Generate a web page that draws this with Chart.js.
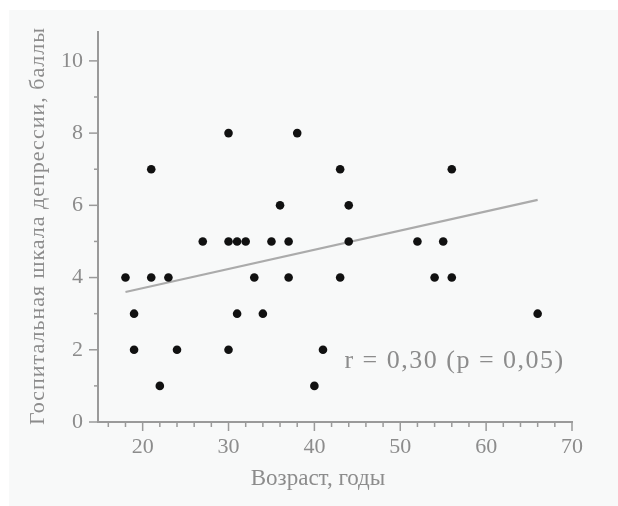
<!DOCTYPE html>
<html lang="ru">
<head>
<meta charset="utf-8">
<title>Возраст и депрессия</title>
<script src="https://cdn.jsdelivr.net/npm/chart.js@4.4.1/dist/chart.umd.min.js"></script>
<style>
  html, body { margin: 0; padding: 0; background: #fff; }
  #wrap { position: relative; width: 618px; height: 506px; }
  #panel { position: absolute; left: 9px; top: 10px; right: 0; bottom: 0; background: #f8f9f9; }
  #chart { position: absolute; left: 0; top: 0; }
</style>
</head>
<body>
<div id="wrap">
  <div id="panel"></div>
  <canvas id="chart" width="618" height="506"></canvas>
</div>
<script>
// ── Data ──────────────────────────────────────────────────────────────────────
const ages   = [18, 19, 19, 21, 21, 22, 23, 24, 27, 30, 30, 30, 31, 31, 32, 33, 34,
                35, 36, 37, 37, 38, 40, 41, 43, 43, 44, 44, 52, 54, 55, 56, 56, 66];
const scores = [ 4,  3,  2,  7,  4,  1,  4,  2,  5,  8,  5,  2,  5,  3,  5,  4,  3,
                 5,  6,  5,  4,  8,  1,  2,  7,  4,  6,  5,  5,  4,  5,  7,  4,  3];

// regression line ends, as drawn
const fitX = [18, 66];
const fitY = [3.6, 6.15];

// axis ticks
const xMajor = [20, 30, 40, 50, 60, 70];
const yMajor = [0, 2, 4, 6, 8, 10];

const xTitle = 'Возраст, годы';
const yTitle = 'Госпитальная шкала депрессии, баллы';
const note   = 'r = 0,30 (p = 0,05)';

// ── Look ──────────────────────────────────────────────────────────────────────
const FONT      = "'Liberation Serif', 'DejaVu Serif', serif";
const TEXT_COL  = '#8c8c8c';
const AXIS_COL  = '#9a9a9a';

const points = ages.map((a, i) => ({ x: a, y: scores[i] }));
const fitLine = fitX.map((x, i) => ({ x, y: fitY[i] }));

// minor/major tick marks + free text (axis titles, r/p note)
const extras = {
  id: 'extras',
  afterDraw(chart) {
    const { ctx, scales: { x, y }, chartArea } = chart;
    ctx.save();
    ctx.strokeStyle = AXIS_COL;
    ctx.lineWidth = 1.5;
    x.ticks.forEach(t => {
      const px = x.getPixelForValue(t.value);
      const len = xMajor.includes(t.value) ? 9 : 5;
      ctx.beginPath();
      ctx.moveTo(px, chartArea.bottom);
      ctx.lineTo(px, chartArea.bottom + len);
      ctx.stroke();
    });
    y.ticks.forEach(t => {
      const py = y.getPixelForValue(t.value);
      const len = yMajor.includes(t.value) ? 9 : 4;
      ctx.beginPath();
      ctx.moveTo(chartArea.left, py);
      ctx.lineTo(chartArea.left - len, py);
      ctx.stroke();
    });

    ctx.fillStyle = TEXT_COL;
    ctx.textBaseline = 'middle';

    // x title
    ctx.font = `23px ${FONT}`;
    ctx.letterSpacing = '0px';
    ctx.textAlign = 'center';
    ctx.fillText(xTitle, 318, 479);

    // y title (rotated)
    ctx.save();
    ctx.translate(38, 226);
    ctx.rotate(-Math.PI / 2);
    ctx.font = `22px ${FONT}`;
    ctx.letterSpacing = '1px';
    ctx.fillText(yTitle, 0, 0);
    ctx.restore();

    // correlation note
    ctx.font = `26px ${FONT}`;
    ctx.letterSpacing = '1.5px';
    ctx.textAlign = 'left';
    ctx.fillText(note, x.getPixelForValue(43.5), y.getPixelForValue(1.69));
    ctx.restore();
  }
};

new Chart(document.getElementById('chart'), {
  type: 'scatter',
  data: {
    datasets: [
      {
        data: points,
        backgroundColor: '#111',
        borderWidth: 0,
        pointRadius: 4.3,
        order: 1,
      },
      {
        data: fitLine,
        showLine: true,
        borderColor: '#ababab',
        borderWidth: 2.2,
        pointRadius: 0,
        order: 2,
      }
    ]
  },
  options: {
    responsive: false,
    animation: false,
    layout: { padding: { left: 0, top: 32, right: 46, bottom: 0 } },
    plugins: { legend: { display: false }, tooltip: { enabled: false } },
    scales: {
      x: {
        type: 'linear',
        min: 14.8,
        max: 70,
        afterBuildTicks: s => {
          const ts = [];
          for (let v = 16; v <= 70; v += 2) ts.push({ value: v });
          s.ticks = ts;
        },
        afterFit: s => { s.height = 84; },
        border: { display: true, color: AXIS_COL, width: 2 },
        grid: { display: true, drawOnChartArea: false, drawTicks: true, tickLength: 9, tickColor: 'rgba(0,0,0,0)' },
        ticks: {
          autoSkip: false,
          maxRotation: 0,
          padding: 3,
          color: TEXT_COL,
          font: { family: FONT, size: 22 },
          callback: v => xMajor.includes(v) ? String(v) : '',
        },
      },
      y: {
        type: 'linear',
        min: 0,
        max: 10.8,
        afterBuildTicks: s => {
          const ts = [];
          for (let v = 0; v <= 10; v += 1) ts.push({ value: v });
          s.ticks = ts;
        },
        afterFit: s => { s.width = 98; },
        border: { display: true, color: AXIS_COL, width: 2 },
        grid: { display: true, drawOnChartArea: false, drawTicks: true, tickLength: 9, tickColor: 'rgba(0,0,0,0)' },
        ticks: {
          autoSkip: false,
          padding: 6,
          color: TEXT_COL,
          font: { family: FONT, size: 22 },
          callback: v => yMajor.includes(v) ? String(v) : '',
        },
      }
    }
  },
  plugins: [extras]
});
</script>
</body>
</html>
